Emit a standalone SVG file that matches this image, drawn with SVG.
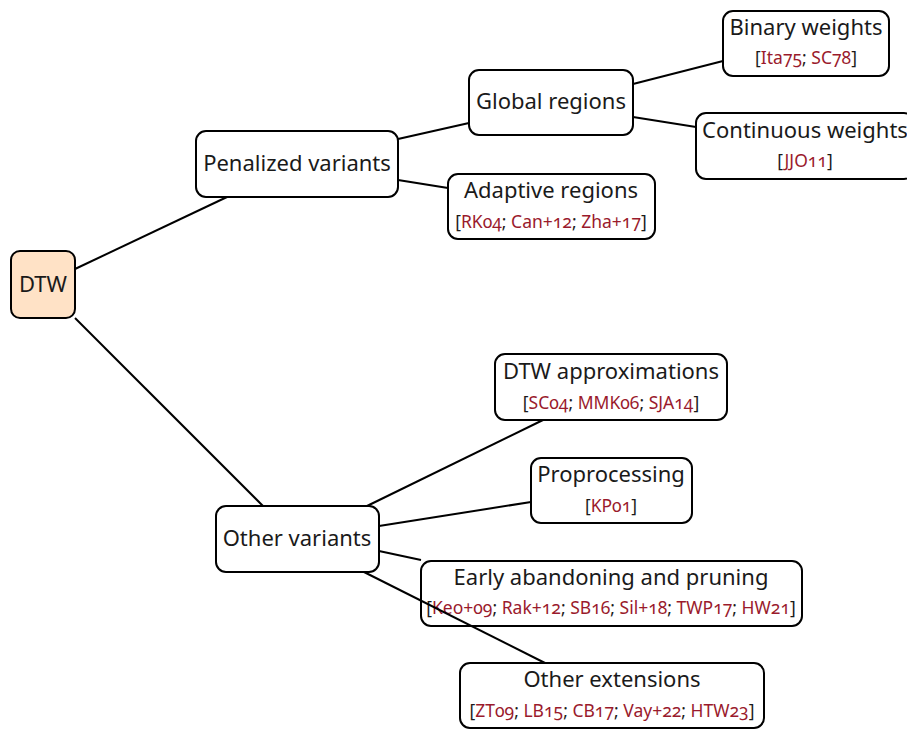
<svg xmlns="http://www.w3.org/2000/svg" width="907" height="729" viewBox="0 0 907 729">
<style>
.box{fill:#ffffff;stroke:#000;stroke-width:2}
.root{fill:#ffe2c6;stroke:#000;stroke-width:2}
.t{font-family:"Noto Sans","Open Sans",sans-serif;font-size:22px;fill:#1a1a1a;text-anchor:middle;font-variant-numeric:oldstyle-nums}
.c{font-family:"Noto Sans","Open Sans",sans-serif;font-size:17.5px;fill:#1a1a1a;text-anchor:middle;font-variant-numeric:oldstyle-nums}
.r{fill:#9a1a2c}
.e{stroke:#000;stroke-width:2;fill:none}
</style>
<rect width="907" height="729" fill="#fff"/>
<g id="dtw"><rect class="root" x="11" y="251" width="64" height="67" rx="9"/><text class="t" x="43" y="292">DTW</text></g>
<g id="penalized"><rect class="box" x="196" y="131" width="202" height="66" rx="10"/><text class="t" x="297" y="171">Penalized variants</text></g>
<g id="global"><rect class="box" x="469" y="70" width="164" height="65" rx="10"/><text class="t" x="551" y="109">Global regions</text></g>
<g id="adaptive"><rect class="box" x="448" y="174" width="207" height="65" rx="10"/><text class="t" x="551" y="198">Adaptive regions</text><text class="c" x="551" y="228">[<tspan class="r">RK04</tspan>; <tspan class="r">Can+12</tspan>; <tspan class="r">Zha+17</tspan>]</text></g>
<g id="binary"><rect class="box" x="723" y="11" width="166" height="65" rx="10"/><text class="t" x="806" y="35">Binary weights</text><text class="c" x="806" y="64">[<tspan class="r">Ita75</tspan>; <tspan class="r">SC78</tspan>]</text></g>
<g id="continuous"><rect class="box" x="696" y="113" width="218" height="66" rx="10"/><text class="t" x="805" y="138">Continuous weights</text><text class="c" x="805" y="167">[<tspan class="r">JJO11</tspan>]</text></g>
<g id="approx"><rect class="box" x="495" y="354" width="232" height="66" rx="10"/><text class="t" x="611" y="379">DTW approximations</text><text class="c" x="611" y="409">[<tspan class="r">SC04</tspan>; <tspan class="r">MMK06</tspan>; <tspan class="r">SJA14</tspan>]</text></g>
<g id="preproc"><rect class="box" x="531" y="458" width="161" height="65" rx="10"/><text class="t" x="611" y="482">Proprocessing</text><text class="c" x="611" y="512">[<tspan class="r">KP01</tspan>]</text></g>
<g id="other"><rect class="box" x="216" y="506" width="163" height="66" rx="10"/><text class="t" x="297" y="546">Other variants</text></g>
<g id="early"><rect class="box" x="421" y="561" width="381" height="65" rx="10"/><text class="t" x="611" y="585">Early abandoning and pruning</text><text class="c" x="611" y="614">[<tspan class="r">Keo+09</tspan>; <tspan class="r">Rak+12</tspan>; <tspan class="r">SB16</tspan>; <tspan class="r">Sil+18</tspan>; <tspan class="r">TWP17</tspan>; <tspan class="r">HW21</tspan>]</text></g>
<g id="extensions"><rect class="box" x="460" y="663" width="304" height="65" rx="10"/><text class="t" x="612" y="687">Other extensions</text><text class="c" x="612" y="717">[<tspan class="r">ZT09</tspan>; <tspan class="r">LB15</tspan>; <tspan class="r">CB17</tspan>; <tspan class="r">Vay+22</tspan>; <tspan class="r">HTW23</tspan>]</text></g>
<g id="connectors" class="e">
<line x1="75" y1="269" x2="227" y2="197"/>
<line x1="75" y1="318" x2="263" y2="506"/>
<line x1="398" y1="139" x2="469" y2="123"/>
<line x1="398" y1="180" x2="448" y2="188"/>
<line x1="633" y1="84" x2="723" y2="61"/>
<line x1="633" y1="117" x2="696" y2="127"/>
<line x1="367" y1="506" x2="543" y2="420"/>
<line x1="379" y1="526" x2="531" y2="502"/>
<line x1="379" y1="551" x2="421" y2="560"/>
<line x1="364" y1="572" x2="545" y2="663"/>
</g>
</svg>
